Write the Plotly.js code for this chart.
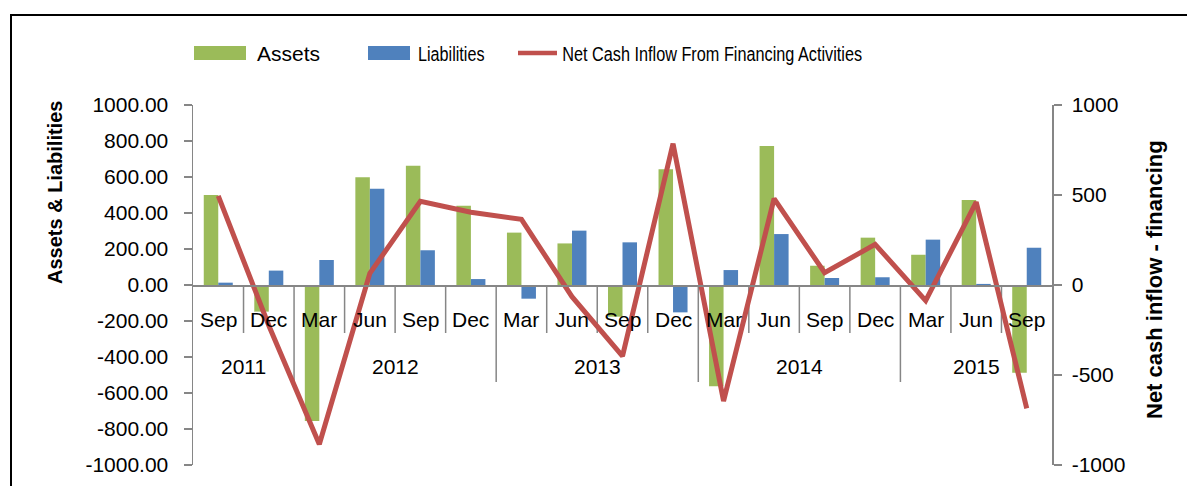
<!DOCTYPE html>
<html>
<head>
<meta charset="utf-8">
<script src="https://cdn.plot.ly/plotly-3.0.1.min.js"></script>
<style>
html,body{margin:0;padding:0;background:#fff;}
#chart{width:1187px;height:486px;}
</style>
</head>
<body>
<div id="chart"></div>
<script>
// ---- data ----
const months = ['Sep','Dec','Mar','Jun','Sep','Dec','Mar','Jun','Sep','Dec','Mar','Jun','Sep','Dec','Mar','Jun','Sep'];
const years  = ['2011','2011','2012','2012','2012','2012','2013','2013','2013','2013','2014','2014','2014','2014','2015','2015','2015'];
const assets      = [500, -148, -755, 598, 662, 440, 291, 231, -176, 643, -563, 772, 107, 263, 168, 472, -487];
const liabilities = [13, 80, 139, 535, 193, 33, -76, 302, 237, -152, 83, 283, 39, 43, 252, 6, 207];
const netCash     = [495, -225, -885, 65, 465, 404, 365, -65, -395, 785, -645, 480, 68, 226, -87, 460, -685];
const leftTicks  = [-1000,-800,-600,-400,-200,0,200,400,600,800,1000];
const rightTicks = [-1000,-500,0,500,1000];
const seriesNames = ['Assets','Liabilities','Net Cash Inflow From Financing Activities'];
const leftTitle = 'Assets & Liabilities';
const rightTitle = 'Net cash inflow - financing';

// ---- styling ----
const FONT = '"Liberation Sans",Arial,sans-serif';
const GREEN = '#9BBB59', BLUE = '#4F81BD', RED = '#C0504D', GRAY = '#868686';
const W = 1187, H = 486, L = 193, R = 1052, T = 105, B = 465;
const px = x => (x - L) / (R - L);
const py = y => (B - y) / (B - T);

const cats = months.map((m, i) => m + ' ' + years[i]);

const traces = [
  {type:'bar', name:seriesNames[0], x:cats, y:assets, marker:{color:GREEN}, yaxis:'y', hoverinfo:'x+y'},
  {type:'bar', name:seriesNames[1], x:cats, y:liabilities, marker:{color:BLUE}, yaxis:'y', hoverinfo:'x+y'},
  {type:'scatter', mode:'lines', name:seriesNames[2], x:cats, y:netCash, yaxis:'y2',
   line:{color:RED, width:5}}
];

const shapes = [];
const annotations = [];

// frame
shapes.push({type:'rect', xref:'paper', yref:'paper', x0:px(11), x1:px(1195), y0:py(15), y1:py(495),
  line:{color:'#000', width:2}, fillcolor:'rgba(0,0,0,0)', layer:'below'});

// month / year separators
for (let i = 0; i < cats.length - 1; i++) {
  const yearBreak = years[i] !== years[i+1];
  shapes.push({type:'line', xref:'x', yref:'paper', x0:i+0.5, x1:i+0.5, y0:0.5, y1: yearBreak ? py(382) : py(333),
    line:{color:GRAY, width:1.5}, layer:'below'});
}

// month labels
cats.forEach((c, i) => {
  annotations.push({xref:'x', yref:'paper', x:i, y:py(319), text:months[i], showarrow:false,
    xanchor:'center', yanchor:'middle', font:{family:FONT, size:21, color:'#000'}});
});
// year labels
const uniqYears = [...new Set(years)];
uniqYears.forEach(yr => {
  const idx = years.map((v,i)=>v===yr?i:-1).filter(v=>v>=0);
  const c = (idx[0] + idx[idx.length-1]) / 2;
  annotations.push({xref:'x', yref:'paper', x:c, y:py(366), text:yr, showarrow:false,
    xanchor:'center', yanchor:'middle', font:{family:FONT, size:21, color:'#000'}});
});

// axis titles
annotations.push({xref:'paper', yref:'paper', x:px(55), y:py(193), text:'<b>'+leftTitle+'</b>', textangle:-90,
  showarrow:false, xanchor:'center', yanchor:'middle', font:{family:FONT, size:20, color:'#000'}});
annotations.push({xref:'paper', yref:'paper', x:px(1154), y:py(280), text:'<b>'+rightTitle+'</b>', textangle:-90,
  showarrow:false, xanchor:'center', yanchor:'middle', font:{family:FONT, size:22, color:'#000'}});

// legend (custom)
shapes.push({type:'rect', xref:'paper', yref:'paper', x0:px(194), x1:px(246), y0:py(46), y1:py(60),
  fillcolor:GREEN, line:{width:0}});
shapes.push({type:'rect', xref:'paper', yref:'paper', x0:px(368), x1:px(410), y0:py(46), y1:py(60),
  fillcolor:BLUE, line:{width:0}});
shapes.push({type:'line', xref:'paper', yref:'paper', x0:px(518), x1:px(557), y0:py(53), y1:py(53),
  line:{color:RED, width:4.5}});
[[255, seriesNames[0]], [416, seriesNames[1]], [560, seriesNames[2]]].forEach(([x, t]) => {
  annotations.push({xref:'paper', yref:'paper', x:px(x), y:py(53), text:t, showarrow:false,
    xanchor:'left', yanchor:'middle', font:{family:FONT, size:21, color:'#000'}});
});

const layout = {
  width:W, height:H,
  margin:{l:L, r:W-R, t:T, b:H-B, pad:0},
  paper_bgcolor:'#fff', plot_bgcolor:'#fff',
  showlegend:false,
  barmode:'group', bargap:0.426, bargroupgap:0,
  font:{family:FONT, size:21, color:'#000'},
  xaxis:{type:'category', range:[-0.5, cats.length-0.5], anchor:'free', position:0.5,
    showline:true, linecolor:GRAY, linewidth:1.5, showticklabels:false, ticks:'', showgrid:false, zeroline:false,
    fixedrange:true},
  yaxis:{range:[-1000,1000], tickvals:leftTicks, ticktext:leftTicks.map(v=>v.toFixed(2)),
    ticks:'outside', ticklen:8, tickwidth:1.5, ticklabelstandoff:11,
    tickcolor:GRAY, showline:true, linecolor:GRAY, linewidth:1.5, showgrid:false, zeroline:false,
    tickfont:{family:FONT, size:21, color:'#000'}},
  yaxis2:{range:[-1000,1000], tickvals:rightTicks, ticktext:rightTicks.map(v=>String(v)), overlaying:'y', side:'right',
    ticks:'outside', ticklen:8, tickwidth:1.5, tickcolor:GRAY, showline:true, linecolor:GRAY, linewidth:1.5,
    ticklabelstandoff:6, showgrid:false, zeroline:false, tickfont:{family:FONT, size:21, color:'#000'}},
  shapes:shapes, annotations:annotations
};

Plotly.newPlot('chart', traces, layout, {displayModeBar:false, staticPlot:true}).then(gd => {
  // the reference draws two legend labels in a condensed face; squeeze them horizontally
  const squeeze = {[seriesNames[1]]:0.77, [seriesNames[2]]:0.775};
  gd.querySelectorAll('text.annotation-text').forEach(t => {
    const s = squeeze[t.textContent];
    if (!s) return;
    const bb = t.getBBox();
    const prev = t.getAttribute('transform') || '';
    t.setAttribute('transform', prev + ` translate(${bb.x*(1-s)},0) scale(${s},1)`);
  });
});
</script>
</body>
</html>
